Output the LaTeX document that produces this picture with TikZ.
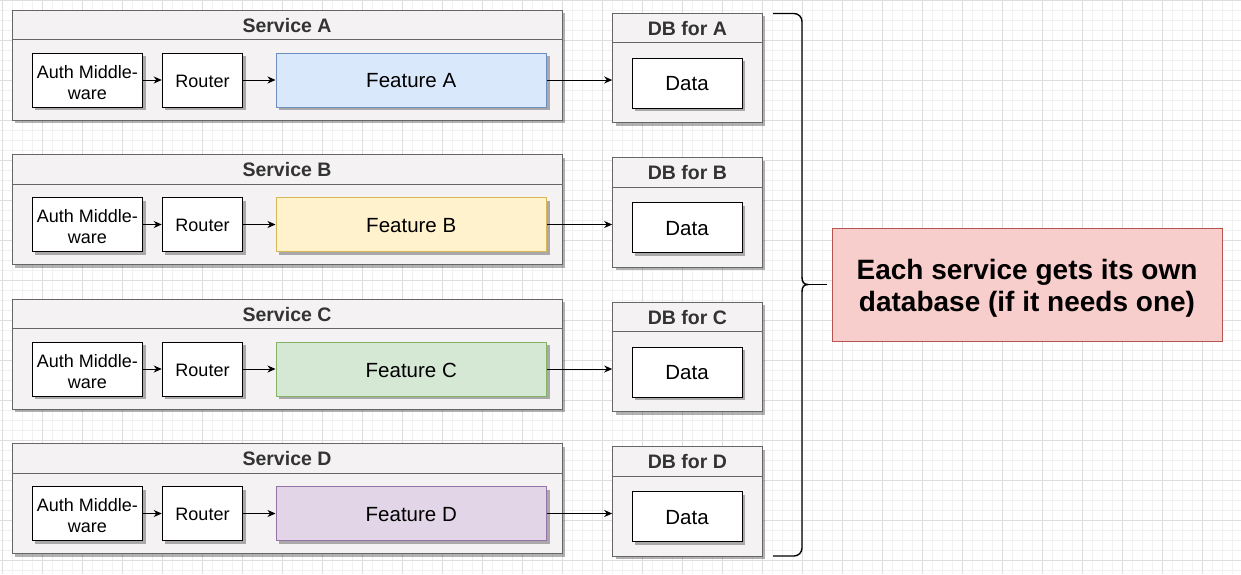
\documentclass[tikz,border=0pt]{standalone}
\usepackage{fontspec}
\setmainfont{Liberation Sans}
\usetikzlibrary{arrows.meta,shadows,calc}
\definecolor{contfill}{HTML}{F4F2F2}
\definecolor{contdraw}{HTML}{666666}
\definecolor{titlecol}{HTML}{333333}
\definecolor{fillA}{HTML}{DAE8FC}\definecolor{drawA}{HTML}{6C8EBF}
\definecolor{fillB}{HTML}{FFF2CC}\definecolor{drawB}{HTML}{D6B656}
\definecolor{fillC}{HTML}{D5E8D4}\definecolor{drawC}{HTML}{82B366}
\definecolor{fillD}{HTML}{E1D5E7}\definecolor{drawD}{HTML}{9673A6}
\definecolor{notefill}{HTML}{F8CECC}\definecolor{notedraw}{HTML}{B85450}
\definecolor{majorgrid}{HTML}{DDDDDD}
\definecolor{minorgrid}{HTML}{F1F1F1}
\newcommand\lowtext[2]{\raisebox{-#1}[\height][\depth]{\begin{tabular}{@{}c@{}}#2\end{tabular}}}
\newcommand\lowone[2]{\raisebox{-#1}[\height][\depth]{#2}}
\tikzset{
  shade3/.style={drop shadow={shadow xshift=3pt,shadow yshift=-3pt,opacity=0.3,fill=black}},
  container/.style={draw=contdraw,fill=contfill,line width=1pt,shade3,inner sep=0pt},
  whitebox/.style={draw=black,fill=white,line width=1pt,shade3,inner sep=0pt,align=center,
    font=\fontsize{18}{21}\selectfont},
  featbox/.style={line width=1pt,shade3,inner sep=0pt,font=\fontsize{20.5}{24}\selectfont},
  titletext/.style={text=titlecol,font=\bfseries\fontsize{19.5}{23}\selectfont,inner sep=0pt},
  conn/.style={draw=black,line width=1pt,-{Stealth[length=8pt,width=7pt,inset=2.5pt]}},
  bracestyle/.style={draw=black,line width=1.4pt},
}
\begin{document}
\begin{tikzpicture}[x=1pt,y=-1pt]
\useasboundingbox (0,0) rectangle (1241,574);
\fill[white] (0,0) rectangle (1241,574);
% grid
\foreach \gx in {2,12,...,1242} \draw[minorgrid,line width=0.8pt] (\gx,0) -- (\gx,574);
\foreach \gy in {0,10,...,570} \draw[minorgrid,line width=0.8pt] (0,\gy) -- (1241,\gy);
\foreach \gx in {2,42,...,1242} \draw[majorgrid,line width=0.8pt] (\gx,0) -- (\gx,574);
\foreach \gy in {0,40,...,570} \draw[majorgrid,line width=0.8pt] (0,\gy) -- (1241,\gy);

\foreach \L/\i in {A/0,B/1,C/2,D/3}{
  \pgfmathsetmacro{\dy}{144.5*\i}
  \begin{scope}[yshift=-\dy pt]
    % service container
    \node[container,minimum width=550pt,minimum height=110pt] (svc\L) at (287,65) {};
    \draw[contdraw,line width=1pt] ($(svc\L.north west)+(0,30)$) -- ($(svc\L.north east)+(0,30)$);
    \node[titletext] (svct\L) at (287,25.5) {Service \L};
    % inner boxes
    \node[whitebox,minimum width=110.5pt,minimum height=54pt] (auth\L) at (87.5,80) {\lowtext{4.3pt}{Auth Middle-\\ware}};
    \node[whitebox,minimum width=80.5pt,minimum height=54pt] (router\L) at (202.5,80) {\lowone{1pt}{Router}};
    \node[featbox,fill=fill\L,draw=draw\L,minimum width=270.5pt,minimum height=54pt] (feat\L) at (411.25,80) {\lowone{1pt}{Feature \L}};
    % database
    \node[container,minimum width=149.3pt,minimum height=109.7pt] (db\L) at (687.35,67.85) {};
    \draw[contdraw,line width=1pt] ($(db\L.north west)+(0,30)$) -- ($(db\L.north east)+(0,30)$);
    \node[titletext] (dbt\L) at (687.35,28.5) {DB for \L};
    \node[whitebox,minimum width=110pt,minimum height=50pt,font=\fontsize{20.5}{24}\selectfont] (data\L) at (687,83) {\lowone{1pt}{Data}};
    % connectors
    \draw[conn] (auth\L) -- (router\L);
    \draw[conn] (router\L) -- (feat\L);
    \draw[conn] (feat\L.east) -- (feat\L.east -| db\L.west);
  \end{scope}
}

% brace
\coordinate (btip) at (827,284.5);
\draw[bracestyle,rounded corners=8pt] (773,13.5) -- (802,13.5) -- (802,278);
\draw[bracestyle] (802,277.5) .. controls (802,282) and (804,284.5) .. (808,284.5)
  .. controls (804,284.5) and (802,287) .. (802,291.5);
\draw[bracestyle] (807,284.5) -- (btip);
\draw[bracestyle,rounded corners=8pt] (802,291) -- (802,556) -- (773,556);

% note
\node[draw=notedraw,fill=notefill,line width=1pt,minimum width=390pt,minimum height=113pt,
  font=\bfseries\fontsize{28}{32}\selectfont] (note) at (1027,284.5)
  {\lowtext{4.5pt}{Each service gets its own\\database (if it needs one)}};
\end{tikzpicture}
\end{document}
